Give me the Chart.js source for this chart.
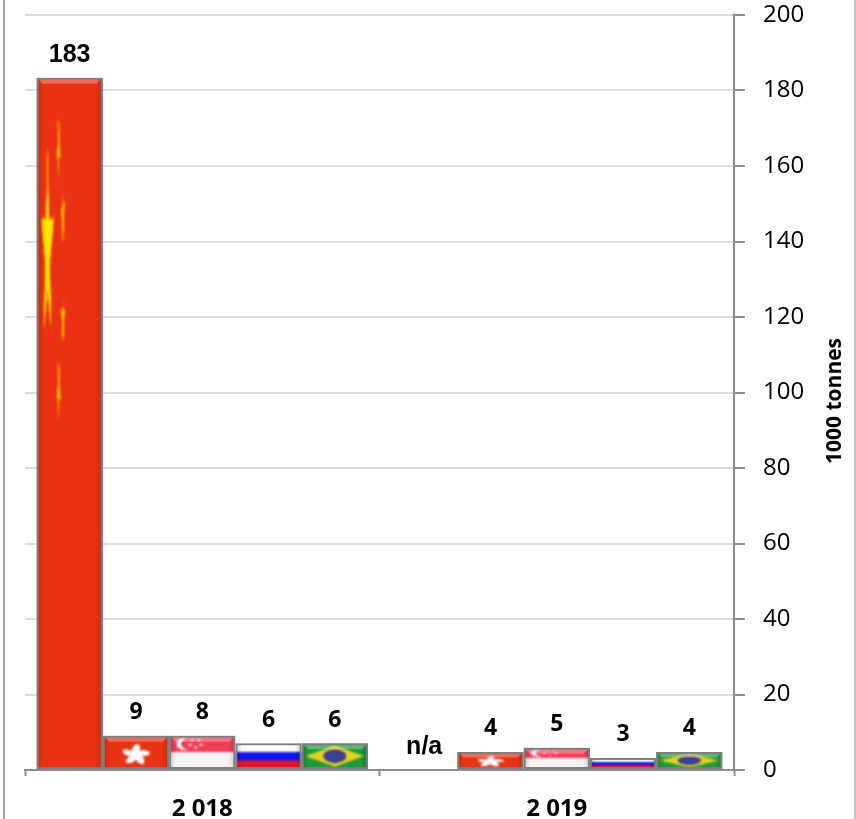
<!DOCTYPE html>
<html>
<head>
<meta charset="utf-8">
<style>
  html, body { margin: 0; padding: 0; background: #fff; overflow: hidden; }
  #wrap { position: relative; width: 856px; height: 819px; }
  #frame { position: absolute; left: 3px; right: 0; top: 0; bottom: 0; border-left: 2px solid #a6a6a6; border-right: 2px solid #c4c4c4; pointer-events: none; }
</style>
<script src="https://cdn.jsdelivr.net/npm/chart.js@4/dist/chart.umd.min.js"></script>
</head>
<body>
<div id="wrap">
  <canvas id="tonnesChart" width="856" height="819"></canvas>
  <div id="frame"></div>
</div>
<script>
const categories = ['2 018', '2 019'];
const seriesNames = ['China', 'Hong Kong', 'Singapore', 'Russia', 'Brazil'];

// bar heights
const chinaValues = [183.4, 0];
const hongKongValues = [9.1, 4.8];
const singaporeValues = [9.1, 5.9];
const russiaValues = [7.1, 3.2];
const brazilValues = [7.1, 4.8];

// labels printed above the bars
const chinaLabels = ['183', 'n/a'];
const hongKongLabels = ['9', '4'];
const singaporeLabels = ['8', '5'];
const russiaLabels = ['6', '3'];
const brazilLabels = ['6', '4'];

const yAxisTitle = '1000 tonnes';

const allValues = [chinaValues, hongKongValues, singaporeValues, russiaValues, brazilValues];
const allLabels = [chinaLabels, hongKongLabels, singaporeLabels, russiaLabels, brazilLabels];

function star(c, x, y, rx, ry, turn) {
  c.beginPath();
  for (let i = 0; i < 10; i++) {
    const r = i % 2 ? 0.38 : 1;
    const a = -Math.PI / 2 + (turn || 0) + i * Math.PI / 5;
    c.lineTo(x + Math.cos(a) * rx * r, y + Math.sin(a) * ry * r);
  }
  c.closePath();
  c.fill();
}

// flags are drawn once on small canvases, then stretched into each bar
const flagPainters = {
  China(c) {
    c.fillStyle = '#e93212';
    c.fillRect(0, 0, 300, 200);
    c.fillStyle = '#ffe600';
    star(c, 50, 50, 30, 30);
    c.fillStyle = '#ffc400';
    star(c, 100, 20, 10, 10, 0.6);
    star(c, 120, 40, 10, 10, 1.1);
    star(c, 120, 70, 10, 10, 0);
    star(c, 100, 90, 10, 10, 0.6);
  },
  'Hong Kong'(c) {
    c.fillStyle = '#e63312';
    c.fillRect(0, 0, 300, 200);
    c.fillStyle = '#fff';
    for (let i = 0; i < 5; i++) {
      c.save();
      c.translate(150, 115);
      c.rotate(i * 2 * Math.PI / 5);
      c.beginPath();
      c.ellipse(0, -32, 17, 32, 0.25, 0, Math.PI * 2);
      c.fill();
      c.restore();
    }
    c.beginPath();
    c.arc(150, 115, 16, 0, Math.PI * 2);
    c.fill();
  },
  Singapore(c) {
    c.fillStyle = '#ef3d58';
    c.fillRect(0, 0, 300, 100);
    c.fillStyle = '#f4f4f4';
    c.fillRect(0, 100, 300, 100);
    c.fillStyle = '#fff';
    c.beginPath();
    c.arc(70, 50, 36, 0, Math.PI * 2);
    c.fill();
    c.fillStyle = '#ef3d58';
    c.beginPath();
    c.arc(88, 50, 34, 0, Math.PI * 2);
    c.fill();
    c.fillStyle = '#fff';
    star(c, 105, 25, 9, 9);
    star(c, 135, 25, 9, 9);
    star(c, 95, 55, 9, 9);
    star(c, 145, 55, 9, 9);
    star(c, 120, 72, 9, 9);
  },
  Russia(c) {
    c.fillStyle = '#fafafa';
    c.fillRect(0, 0, 300, 67);
    c.fillStyle = '#0f14e6';
    c.fillRect(0, 67, 300, 67);
    c.fillStyle = '#e2142a';
    c.fillRect(0, 134, 300, 66);
  },
  Brazil(c) {
    c.fillStyle = '#1f9a3a';
    c.fillRect(0, 0, 300, 200);
    c.fillStyle = '#e6d21e';
    c.beginPath();
    c.moveTo(18, 100);
    c.lineTo(150, 18);
    c.lineTo(282, 100);
    c.lineTo(150, 182);
    c.closePath();
    c.fill();
    c.fillStyle = '#3c3f92';
    c.beginPath();
    c.arc(150, 100, 52, 0, Math.PI * 2);
    c.fill();
  }
};

const flagCanvases = {};
seriesNames.forEach(name => {
  const off = document.createElement('canvas');
  off.width = 300;
  off.height = 200;
  flagPainters[name](off.getContext('2d'));
  flagCanvases[name] = off;
});

function drawBevel(c, x, y, w, h) {
  const b = Math.min(6, h / 3);
  // top light band
  c.fillStyle = 'rgba(255,255,255,0.28)';
  c.beginPath();
  c.moveTo(x, y);
  c.lineTo(x + w, y);
  c.lineTo(x + w - b, y + b);
  c.lineTo(x + b, y + b);
  c.closePath();
  c.fill();
  // darker side edges
  let g = c.createLinearGradient(x, 0, x + 7, 0);
  g.addColorStop(0, 'rgba(0,0,0,0.18)');
  g.addColorStop(1, 'rgba(0,0,0,0)');
  c.fillStyle = g;
  c.fillRect(x, y, 7, h);
  g = c.createLinearGradient(x + w - 7, 0, x + w, 0);
  g.addColorStop(0, 'rgba(0,0,0,0)');
  g.addColorStop(1, 'rgba(0,0,0,0.18)');
  c.fillStyle = g;
  c.fillRect(x + w - 7, y, 7, h);
  c.strokeStyle = '#7d7d7d';
  c.lineWidth = 2;
  c.strokeRect(x + 1, y + 1, w - 2, h - 2);
}

const flagBars = {
  id: 'flagBars',
  afterDatasetsDraw(chart) {
    const c = chart.ctx;
    chart.data.datasets.forEach((ds, i) => {
      chart.getDatasetMeta(i).data.forEach((bar, j) => {
        const h = bar.base - bar.y;
        const x = bar.x - bar.width / 2;
        if (h > 0) {
          c.save();
          c.beginPath();
          c.rect(x, bar.y, bar.width, h);
          c.clip();
          c.filter = 'blur(0.8px)';
          c.drawImage(flagCanvases[ds.label], x, bar.y, bar.width, h);
          c.filter = 'none';
          drawBevel(c, x, bar.y, bar.width, h);
          c.restore();
        }
        c.save();
        c.fillStyle = '#000';
        c.textAlign = 'center';
        c.textBaseline = 'middle';
        c.font = i === 0 ? 'bold 25px "Liberation Sans"' : 'bold 23px "Open Sans"';
        c.fillText(allLabels[i][j], bar.x, bar.y - 23);
        c.restore();
      });
    });
  }
};

const axisTitle = {
  id: 'axisTitle',
  afterDraw(chart) {
    const c = chart.ctx;
    c.save();
    c.translate(835, 401);
    c.rotate(-Math.PI / 2);
    c.fillStyle = '#000';
    c.textAlign = 'center';
    c.textBaseline = 'middle';
    c.font = 'bold 21px "Open Sans"';
    c.fillText(yAxisTitle, 0, 0);
    c.restore();
  }
};

new Chart(document.getElementById('tonnesChart').getContext('2d'), {
  type: 'bar',
  data: {
    labels: categories,
    datasets: seriesNames.map((name, i) => ({
      label: name,
      data: allValues[i],
      backgroundColor: 'rgba(0,0,0,0)',
      categoryPercentage: 0.935,
      barPercentage: 1
    }))
  },
  options: {
    responsive: false,
    animation: false,
    layout: { padding: { left: 25, top: 15, right: 0, bottom: 0 } },
    plugins: {
      legend: { display: false },
      title: { display: false },
      tooltip: { enabled: false }
    },
    scales: {
      x: {
        afterFit(scale) { scale.height = 49; scale.paddingLeft = 0; scale.paddingRight = 0; },
        grid: { drawOnChartArea: false, tickLength: 6, tickColor: '#8c8c8c', tickWidth: 2, offset: true },
        border: { color: '#8c8c8c', width: 2 },
        ticks: { color: '#000', padding: 19, font: { family: '"Open Sans"', size: 24, weight: 'bold' } }
      },
      y: {
        position: 'right',
        min: 0,
        max: 200,
        afterFit(scale) { scale.width = 122; scale.paddingTop = 0; scale.paddingBottom = 0; },
        grid: { color: '#dcdcdc', lineWidth: 2, tickLength: 11, tickColor: '#8c8c8c', tickWidth: 2, drawTicks: true },
        border: { color: '#8c8c8c', width: 2 },
        ticks: { stepSize: 20, color: '#000', padding: 18, font: { family: '"Open Sans"', size: 24 } }
      }
    }
  },
  plugins: [flagBars, axisTitle]
});
</script>
</body>
</html>
